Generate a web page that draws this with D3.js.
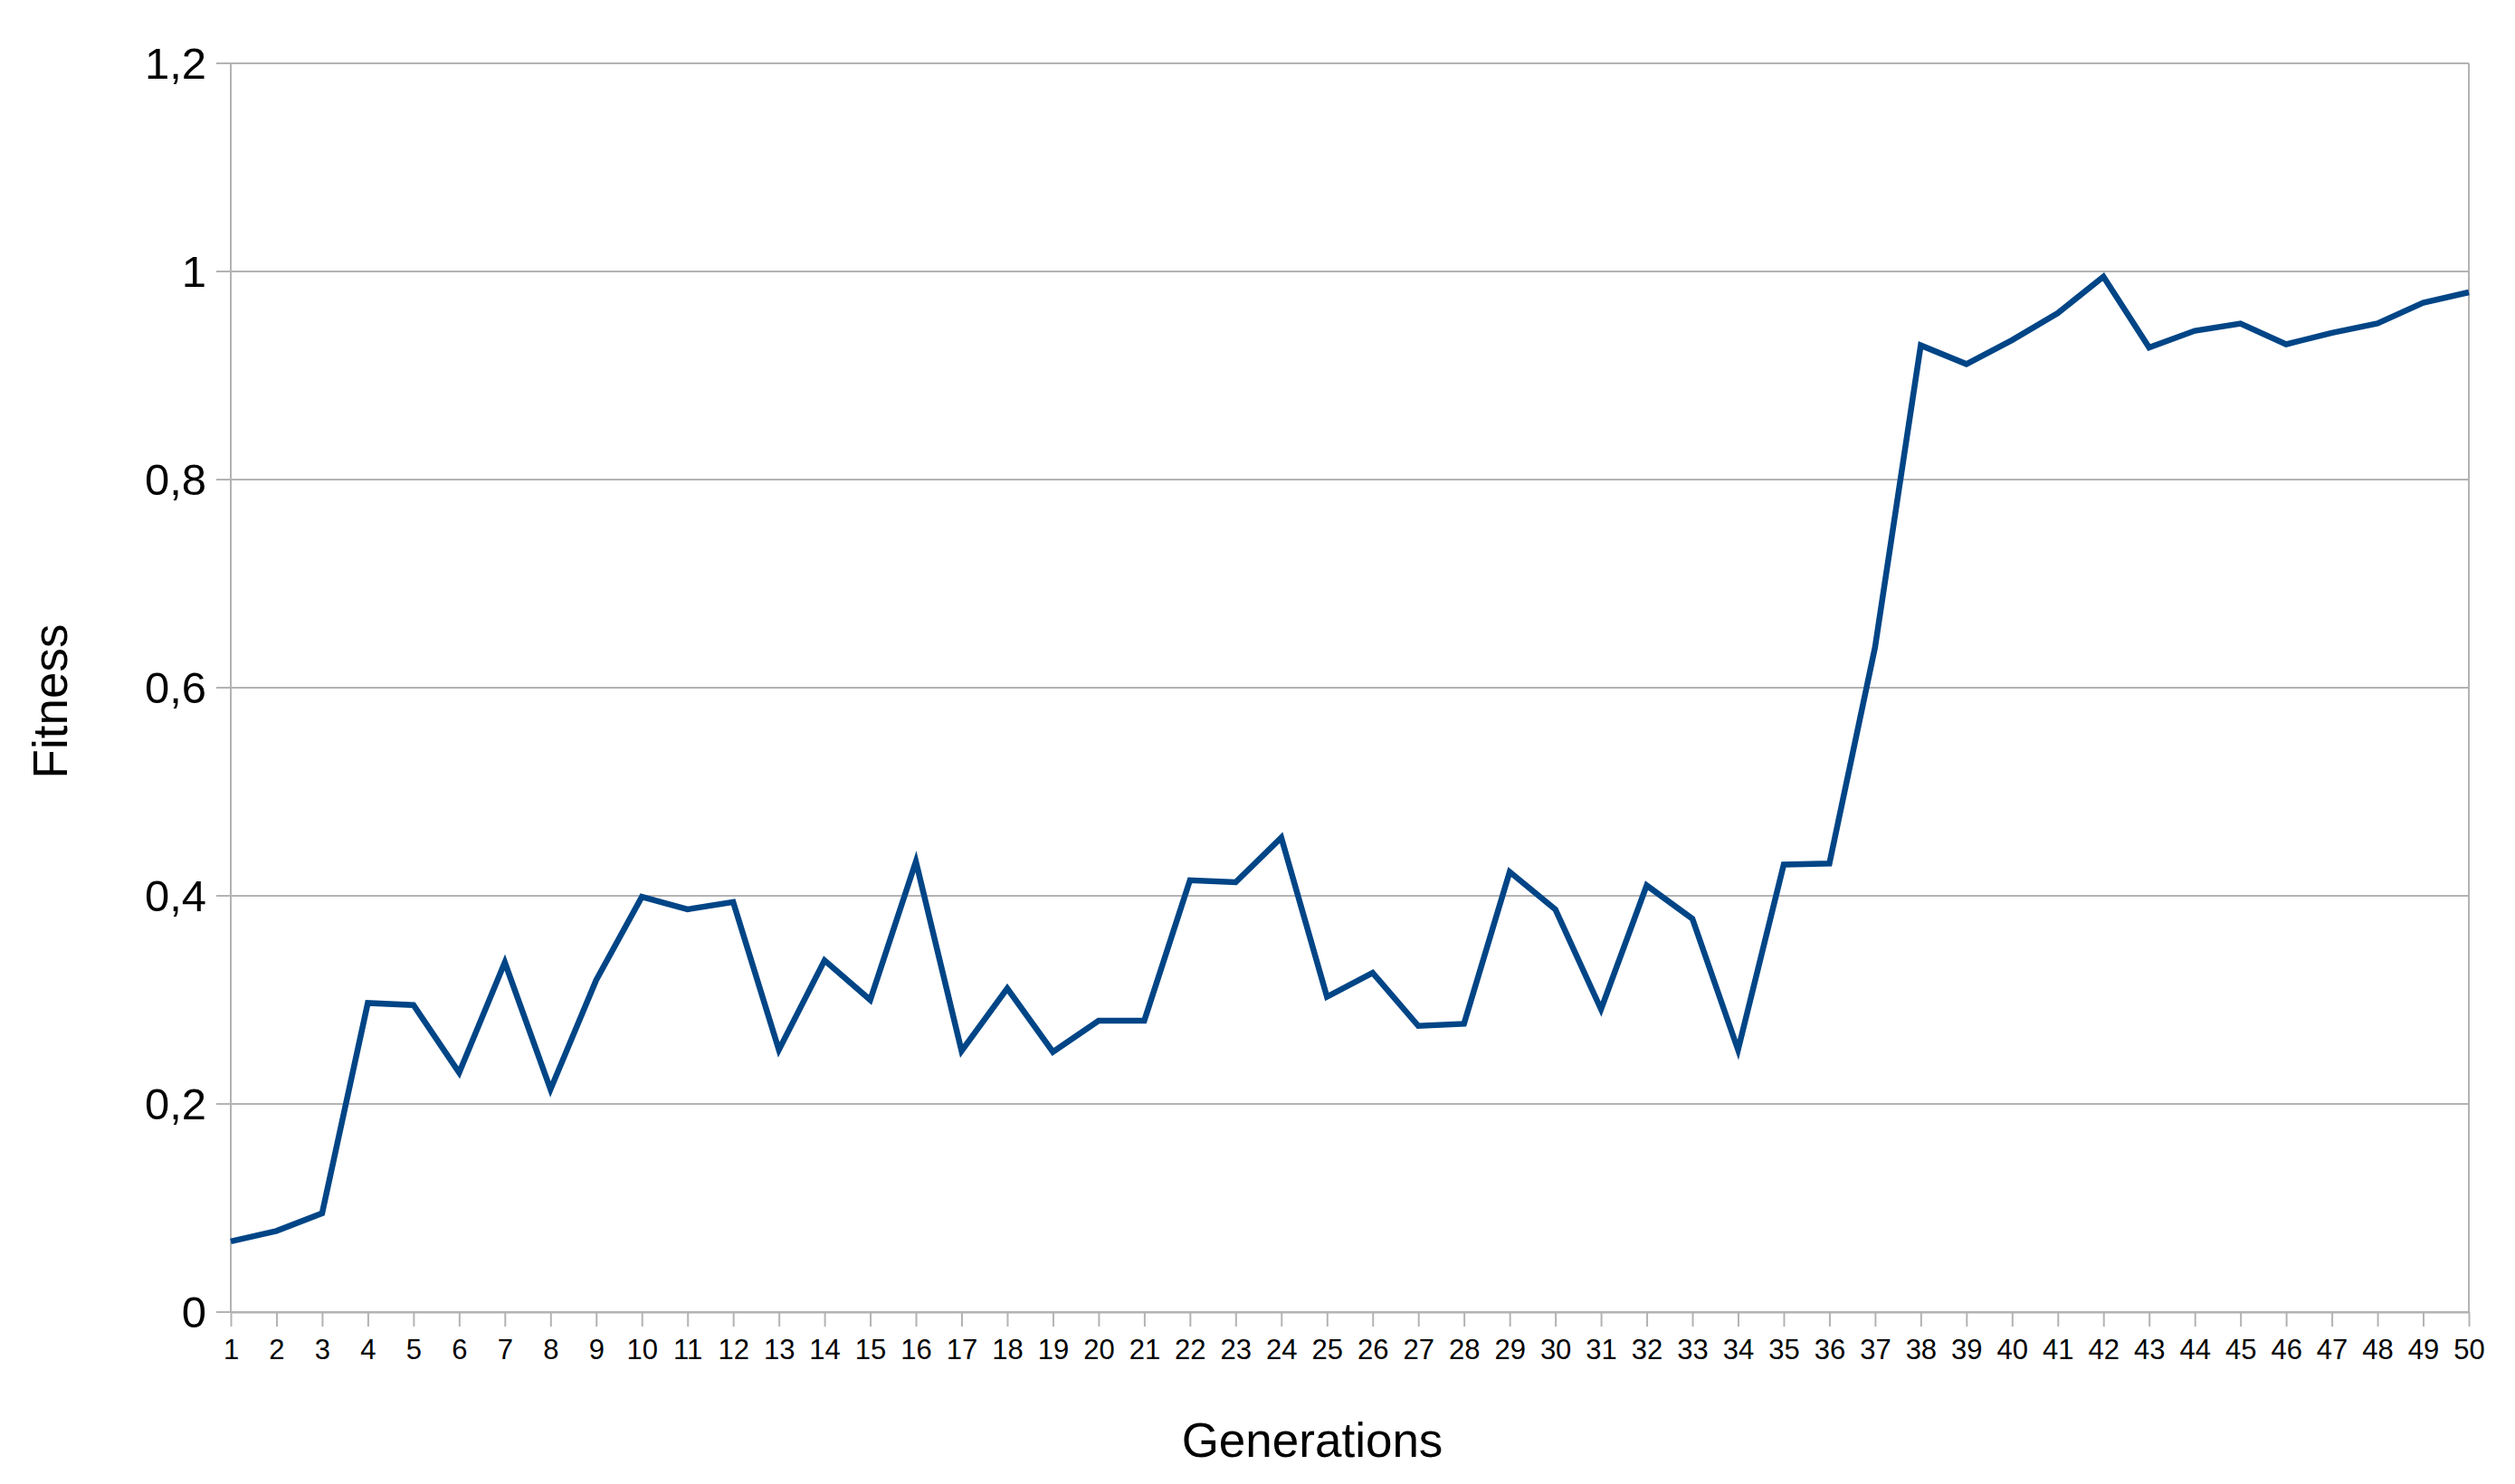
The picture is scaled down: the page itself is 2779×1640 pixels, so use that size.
<!DOCTYPE html>
<html>
<head>
<meta charset="utf-8">
<script src="https://cdn.jsdelivr.net/npm/d3@7"></script>
<style>
  html, body { margin: 0; padding: 0; background: #ffffff; }
  svg { display: block; font-family: "Liberation Sans", Arial, sans-serif; }
</style>
</head>
<body>
<script>
// ---- Data ----
const generations = d3.range(1, 51);
const fitness = [
  0.068, 0.078, 0.095, 0.297, 0.295, 0.230, 0.336, 0.214, 0.319, 0.399,
  0.387, 0.394, 0.252, 0.338, 0.300, 0.433, 0.251, 0.311, 0.250, 0.280,
  0.280, 0.415, 0.413, 0.456, 0.303, 0.326, 0.275, 0.277, 0.423, 0.387,
  0.291, 0.410, 0.378, 0.252, 0.430, 0.431, 0.639, 0.929, 0.911, 0.934,
  0.960, 0.995, 0.927, 0.943, 0.950, 0.930, 0.941, 0.950, 0.970, 0.980
];
const yTicks = [0, 0.2, 0.4, 0.6, 0.8, 1, 1.2];
const xTitle = "Generations";
const yTitle = "Fitness";

// ---- Layout ----
const W = 2779, H = 1640;
const mLeft = 255, mRight = 2728, mTop = 70, mBottom = 1450;
const gridColor = "#b3b3b3";
const lineColor = "#004586";

const svg = d3.select("body").append("svg").attr("width", W).attr("height", H);

const x = d3.scalePoint().domain(generations).range([mLeft, mRight]);
const y = d3.scaleLinear().domain([0, 1.2]).range([mBottom, mTop]);

const fmt = v => String(+v.toFixed(1)).replace(".", ",");

// gridlines (with outward ticks on the left)
svg.append("g").selectAll("line").data(yTicks).join("line")
  .attr("x1", mLeft - 16).attr("x2", mRight)
  .attr("y1", d => y(d)).attr("y2", d => y(d))
  .attr("stroke", gridColor).attr("stroke-width", 2);

// y labels
svg.append("g").selectAll("text").data(yTicks).join("text")
  .attr("x", mLeft - 27).attr("y", d => y(d))
  .attr("dy", "0.35em")
  .attr("text-anchor", "end")
  .attr("font-size", 49)
  .attr("fill", "#000")
  .text(fmt);

// left and right vertical axis lines
svg.append("line").attr("x1", mLeft).attr("x2", mLeft).attr("y1", mTop).attr("y2", mBottom)
  .attr("stroke", gridColor).attr("stroke-width", 2);
svg.append("line").attr("x1", mRight).attr("x2", mRight).attr("y1", mTop).attr("y2", mBottom)
  .attr("stroke", gridColor).attr("stroke-width", 2);

// x axis
const xAxis = d3.axisBottom(x).tickSize(16).tickPadding(14).tickSizeOuter(0);
const gx = svg.append("g").attr("transform", `translate(0,${mBottom})`).call(xAxis);
gx.select(".domain").attr("stroke", gridColor).attr("stroke-width", 2);
gx.selectAll(".tick line").attr("stroke", gridColor).attr("stroke-width", 2);
gx.selectAll(".tick text")
  .attr("font-size", 31).attr("fill", "#000")
  .attr("font-family", "Liberation Sans, Arial, sans-serif");

// data line
const line = d3.line().x((d, i) => x(generations[i])).y(d => y(d));
svg.append("path").datum(fitness)
  .attr("d", line)
  .attr("fill", "none")
  .attr("stroke", lineColor)
  .attr("stroke-width", 6.5)
  .attr("stroke-linejoin", "miter")
  .attr("stroke-linecap", "butt");

// axis titles
svg.append("text")
  .attr("x", 1450).attr("y", 1610)
  .attr("text-anchor", "middle")
  .attr("font-size", 53).attr("fill", "#000")
  .text(xTitle);

svg.append("text")
  .attr("transform", "translate(74,775) rotate(-90)")
  .attr("text-anchor", "middle")
  .attr("font-size", 53).attr("fill", "#000")
  .text(yTitle);
</script>
</body>
</html>
